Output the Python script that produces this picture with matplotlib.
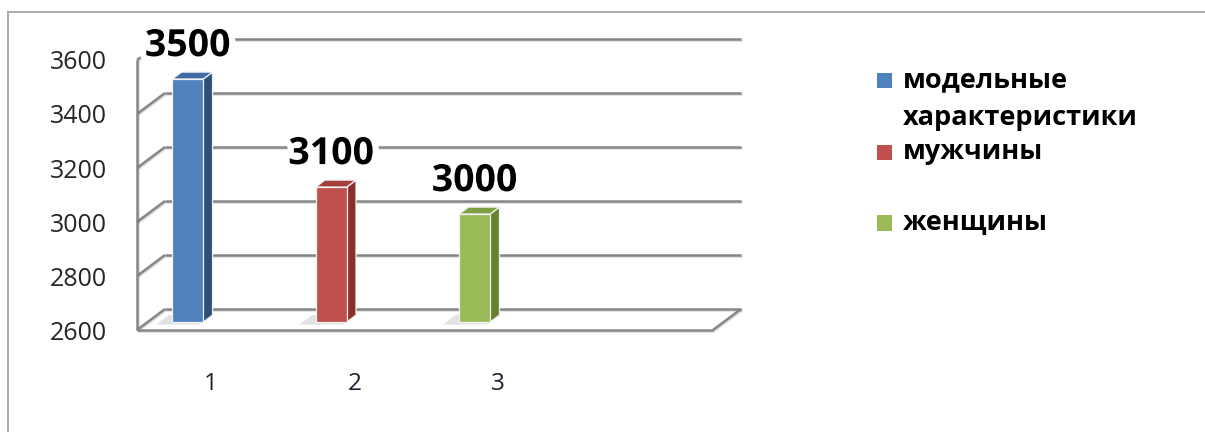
import matplotlib
matplotlib.use("Agg")
import matplotlib.pyplot as plt
import matplotlib.patheffects as pe
from matplotlib.patches import Polygon, Rectangle
from matplotlib.lines import Line2D

plt.rcParams['font.family'] = ['Open Sans', 'DejaVu Sans']

# ── Data ──────────────────────────────────────────────────────────────────────
series = ["модельные\nхарактеристики", "мужчины", "женщины"]
categories = ["1", "2", "3"]
values = [3500, 3100, 3000]
y_ticks = [2600, 2800, 3000, 3200, 3400, 3600]

face_colors = ["#4F81BD", "#C0504D", "#9BBB59"]
side_colors = ["#2E4F78", "#8A2F2D", "#66822F"]
top_colors = ["#3E6BA3", "#A33E3B", "#809E44"]

# ── Layout (pixels) ───────────────────────────────────────────────────────────
W, H = 1205, 432
AX_L, AX_R, AX_T, AX_B = 137, 713, 60, 330
XLIM = (0.72, 4.735)
DEPTH_PX = (28, 21)          # oblique offset of the back wall
BAR_D0, BAR_D1 = 0.38, 0.71  # bar depth span (fraction of floor depth)
BAR_W = 0.216
GRID = "#878787"

fig = plt.figure(figsize=(W / 100, H / 100), dpi=100)
ax = fig.add_axes([AX_L / W, (H - AX_B) / H, (AX_R - AX_L) / W, (AX_B - AX_T) / H])
ax.set_xlim(*XLIM)
ax.set_ylim(y_ticks[0], y_ticks[-1])
ax.patch.set_visible(False)
for s in ax.spines.values():
    s.set_visible(False)

px_x = (AX_R - AX_L) / (XLIM[1] - XLIM[0])
px_y = (AX_B - AX_T) / (y_ticks[-1] - y_ticks[0])
DX = DEPTH_PX[0] / px_x
DY = DEPTH_PX[1] / px_y


def proj(x, y, d):
    return (x + d * DX, y + d * DY)


shadow = [pe.SimpleLineShadow(offset=(0.6, -0.9), shadow_color="#000000", alpha=0.14),
          pe.Normal()]
line_kw = dict(color=GRID, lw=1.8, clip_on=False, solid_capstyle="butt",
               path_effects=shadow, zorder=1)

x0, x1 = XLIM
base = y_ticks[0]

# back wall gridlines + left wall diagonals
for v in y_ticks:
    ax.plot([x0 + DX, x1 + DX], [v + DY, v + DY], **line_kw)
    ax.plot([x0, x0 + DX], [v, v + DY], **line_kw)

# front axis line, floor edges
ax.plot([x0, x0], [base, y_ticks[-1]], **line_kw)
ax.plot([x0, x1], [base, base], **line_kw)
ax.plot([x1, x1 + DX], [base, base + DY], **line_kw)

# ── Bars ──────────────────────────────────────────────────────────────────────
label_fx = [pe.withStroke(linewidth=9, foreground="white")]
for i, v in enumerate(values):
    xc = i + 1
    xl, xr = xc - BAR_W / 2, xc + BAR_W / 2

    shade = [proj(xl - 0.09, base, BAR_D0 - 0.12), proj(xr, base, BAR_D0 - 0.12),
             proj(xr, base, BAR_D1), proj(xl - 0.09, base, BAR_D1)]
    ax.add_patch(Polygon(shade, closed=True, facecolor="#7F7F7F", alpha=0.22,
                         edgecolor="none", zorder=2, clip_on=False))

    front = [proj(xl, base, BAR_D0), proj(xr, base, BAR_D0),
             proj(xr, v, BAR_D0), proj(xl, v, BAR_D0)]
    side = [proj(xr, base, BAR_D0), proj(xr, base, BAR_D1),
            proj(xr, v, BAR_D1), proj(xr, v, BAR_D0)]
    top = [proj(xl, v, BAR_D0), proj(xr, v, BAR_D0),
           proj(xr, v, BAR_D1), proj(xl, v, BAR_D1)]
    for poly, col in ((side, side_colors[i]), (top, top_colors[i]), (front, face_colors[i])):
        ax.add_patch(Polygon(poly, closed=True, facecolor=col, edgecolor="#F2F2F2",
                             lw=0.9, zorder=3, clip_on=False, joinstyle="miter"))

    ax.annotate(str(v), xy=proj(xc, v, BAR_D0), xytext=(0, 16.5), textcoords="offset points",
                ha="center", va="baseline", fontsize=27, fontweight="bold", color="black",
                path_effects=label_fx, zorder=5, annotation_clip=False)

# ── Ticks ─────────────────────────────────────────────────────────────────────
ax.set_yticks(y_ticks)
ax.set_yticklabels([str(t) for t in y_ticks])
ax.tick_params(axis="y", length=0, pad=21.6, labelsize=18, labelcolor="#262626")
ax.set_xticks([i + 1 + 0.236 for i in range(len(categories))])
ax.set_xticklabels(categories)
ax.tick_params(axis="x", length=0, pad=30.5, labelsize=17.5, labelcolor="#1F1F2F")

# ── Legend (drawn by hand to mimic the wrapped first entry) ───────────────────
LEG_X, LEG_TXT_X, LEG_SQ = 877, 903, 15
LEG_Y = [80, 152, 223]
LINE_STEP = 38
for name, col, yc in zip(series, face_colors, LEG_Y):
    fig.add_artist(Rectangle((LEG_X / W, (H - yc - LEG_SQ / 2) / H), LEG_SQ / W, LEG_SQ / H,
                             transform=fig.transFigure, facecolor=col, edgecolor="none"))
    for k, line in enumerate(name.split("\n")):
        fig.text(LEG_TXT_X / W, (H - yc - k * LINE_STEP) / H, line, ha="left",
                 va="center", fontsize=19.5, fontweight="bold", color="black")

# ── Chart frame ───────────────────────────────────────────────────────────────
fig.add_artist(Line2D([8 / W, 1], [1 - 12 / H] * 2, color="#A6A6A6", lw=1.3,
                      transform=fig.transFigure))
fig.add_artist(Line2D([8 / W] * 2, [0, 1 - 12 / H], color="#A6A6A6", lw=1.3,
                      transform=fig.transFigure))

fig.savefig("out.png", dpi=100)
